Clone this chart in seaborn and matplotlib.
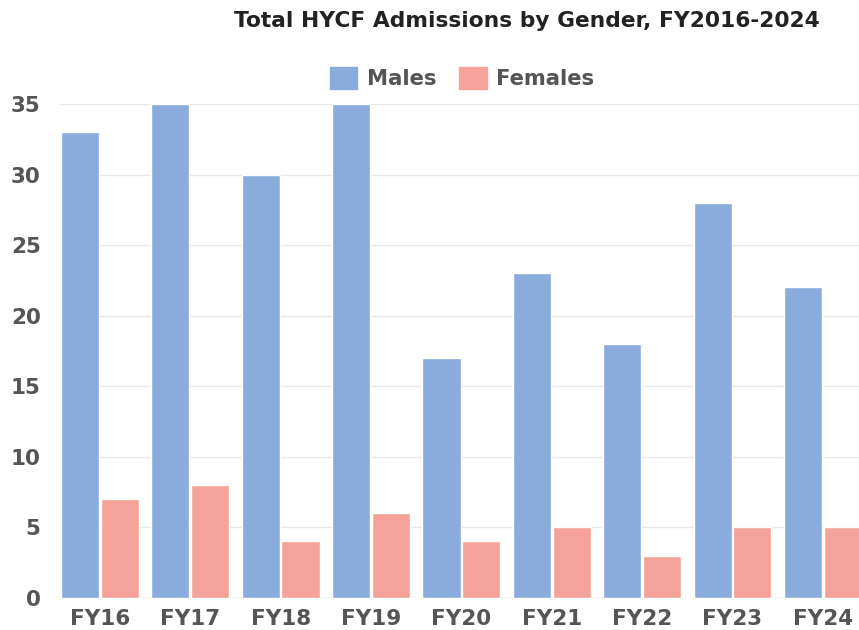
import pandas as pd
import matplotlib.pyplot as plt
import seaborn as sns

# data
years = ["FY16", "FY17", "FY18", "FY19", "FY20", "FY21", "FY22", "FY23", "FY24"]
males = [33, 35, 30, 35, 17, 23, 18, 28, 22]
females = [7, 8, 4, 6, 4, 5, 3, 5, 5]

df = pd.DataFrame({
    "year": years * 2,
    "count": males + females,
    "gender": ["Males"] * len(years) + ["Females"] * len(years),
})

sns.set_style("white")
plt.rcParams["font.family"] = ["DejaVu Sans"]

fig = plt.figure(figsize=(8.59, 6.3), dpi=100)
ax = fig.add_axes([0.07, 0.051, 0.93, 0.784])

sns.barplot(data=df, x="year", y="count", hue="gender",
            palette={"Males": "#89acdd", "Females": "#f4a29a"},
            width=0.88, gap=0.04, saturation=1, ax=ax, legend=False)

ax.set_xlim(-0.44, 8.4)
ax.set_ylim(0, 35)
ax.set_yticks(range(0, 36, 5))
ax.yaxis.grid(True, color="#e8e8e8", linewidth=1)
ax.set_axisbelow(True)
sns.despine(ax=ax, left=True, bottom=True, top=True, right=True)
ax.axhline(0, color="#dddddd", linewidth=1, zorder=0)
ax.set_xlabel("")
ax.set_ylabel("")
ax.tick_params(axis="x", length=0, labelsize=15.5, labelcolor="#555555", pad=8)
ax.tick_params(axis="y", length=0, labelsize=15.5, labelcolor="#555555", pad=14)
for lbl in ax.get_xticklabels() + ax.get_yticklabels():
    lbl.set_fontweight("bold")

handles = [plt.Rectangle((0, 0), 1, 1, color="#89acdd"),
           plt.Rectangle((0, 0), 1, 1, color="#f4a29a")]
leg = fig.legend(handles, ["Males", "Females"], loc="center", bbox_to_anchor=(0.538, 0.876),
                 ncol=2, frameon=False, handlelength=1.3, handleheight=1.25,
                 columnspacing=1.1, handletextpad=0.45,
                 prop={"size": 15.2, "weight": "bold"})
for t in leg.get_texts():
    t.set_color("#555555")

fig.text(0.613, 0.966, "Total HYCF Admissions by Gender, FY2016-2024", ha="center", va="center",
         fontsize=15.7, fontweight="bold", color="#222222")

fig.savefig("out.png", dpi=100)
